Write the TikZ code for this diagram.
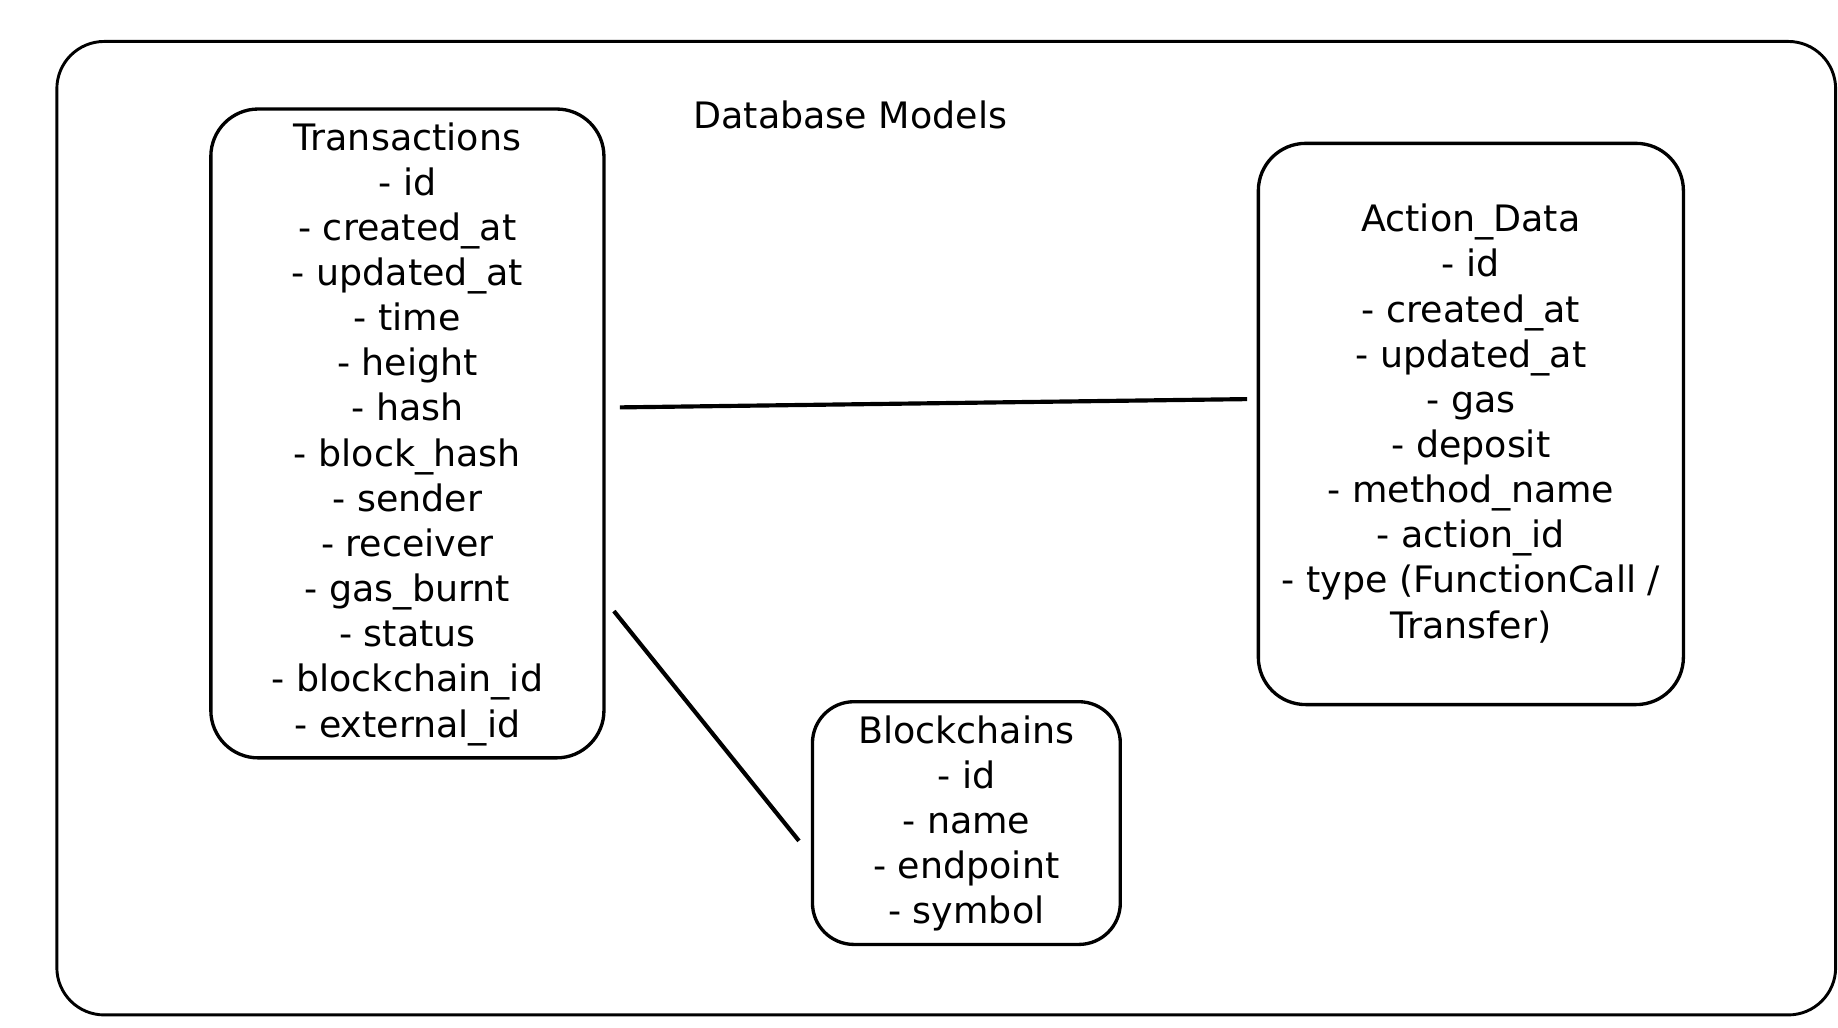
\documentclass[tikz,border=0pt]{standalone}
\usepackage{fontspec}
\setmainfont{DejaVu Sans}
\begin{document}
\begin{tikzpicture}[x=0.02cm,y=-0.02cm,
  model/.style={draw,line width=1.6pt,rounded corners=0.8cm},
  fields/.style={anchor=north,align=center,inner sep=0pt,font=\fontsize{17.5}{21.7}\selectfont},
  link/.style={line width=2pt}]
  \useasboundingbox (0,0) rectangle (1552,868);
  \draw[line width=1.4pt,rounded corners=0.8cm] (48,35) rectangle (1550,857);
  \node[fields] (title) at (718,85) {Database Models};
  \node[model,minimum width=6.64cm,minimum height=10.96cm] (tx) at (344,366) {};
  \node[model,minimum width=7.18cm,minimum height=9.48cm] (act) at (1242,358) {};
  \node[model,minimum width=5.2cm,minimum height=4.1cm,rounded corners=0.7cm] (chain) at (816,695) {};
  \node[fields] (txf) at (344,103) {Transactions\\- id\\- created\_at\\- updated\_at\\- time\\- height\\- hash\\- block\_hash\\- sender\\- receiver\\- gas\_burnt\\- status\\- blockchain\_id\\- external\_id};
  \node[fields] (actf) at (1242,172) {Action\_Data\\- id\\- created\_at\\- updated\_at\\- gas\\- deposit\\- method\_name\\- action\_id\\- type (FunctionCall /\\Transfer)};
  \node[fields] (chainf) at (816,604) {Blockchains\\- id\\- name\\- endpoint\\- symbol};
  \draw[link] ([shift={(12,-22)}]tx.east) -- ([shift={(-8,-21)}]act.west);
  \draw[link] ([shift={(7,150)}]tx.east) -- ([shift={(-10,15)}]chain.west);
\end{tikzpicture}
\end{document}
